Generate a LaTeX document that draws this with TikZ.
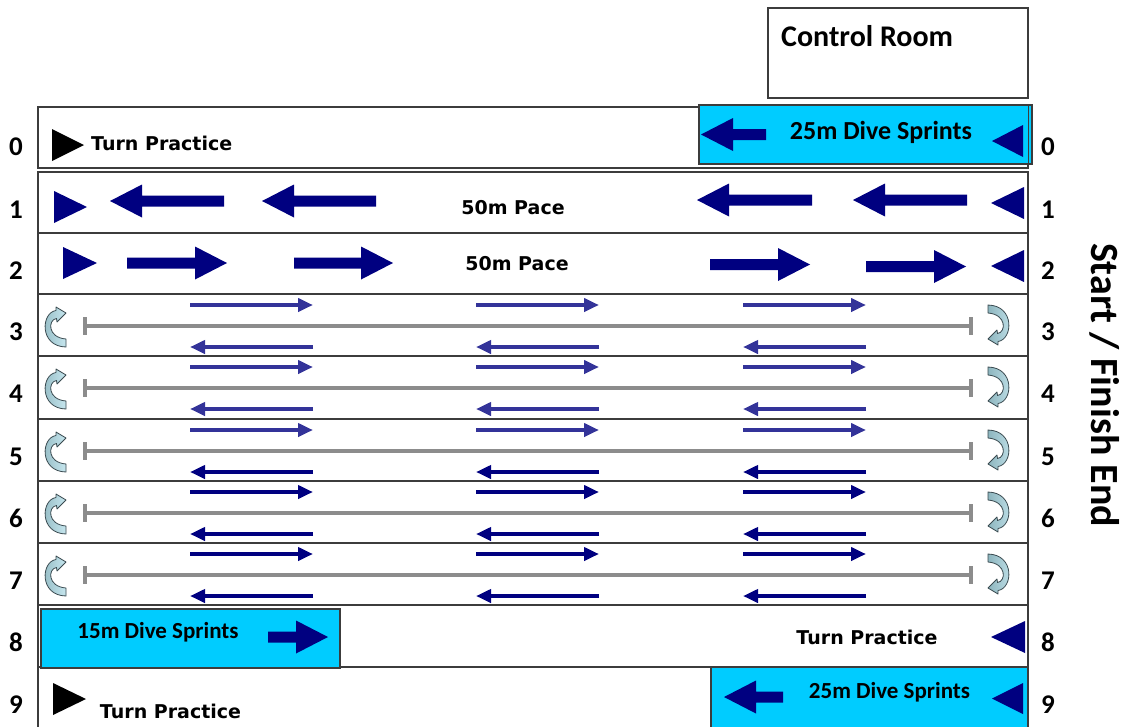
\documentclass[tikz,border=0pt]{standalone}
\usepackage{fontspec}
\setmainfont{Carlito}
\newfontfamily\verd{DejaVu Sans}
\usetikzlibrary{arrows.meta}
\definecolor{navy}{HTML}{000080}
\definecolor{midblue}{HTML}{333399}
\definecolor{cyanbox}{HTML}{00CCFF}
\definecolor{lanegray}{HTML}{8C8C8C}
\definecolor{edge}{HTML}{3C3C3C}
\definecolor{iconlight}{HTML}{C6E6EE}
\definecolor{icondark}{HTML}{8DB5BE}
\definecolor{icondraw}{HTML}{3A4A50}
\newcommand\bigarrL[3]{%
  \fill[navy] (#1,#3) -- ({#1+32},{#3-16.5}) -- ({#1+32},{#3-5.5}) -- (#2,{#3-5.5}) -- (#2,{#3+5.5}) -- ({#1+32},{#3+5.5}) -- ({#1+32},{#3+16.5}) -- cycle;}
\newcommand\bigarrR[3]{%
  \fill[navy] (#2,#3) -- ({#2-32},{#3-16.5}) -- ({#2-32},{#3-5.5}) -- (#1,{#3-5.5}) -- (#1,{#3+5.5}) -- ({#2-32},{#3+5.5}) -- ({#2-32},{#3+16.5}) -- cycle;}
\tikzset{
  lanebox/.style={draw=edge, line width=1.6pt},
  cyanrect/.style={draw=edge, fill=cyanbox, line width=1.6pt},
  txt/.style={inner sep=0pt, text depth=0pt},
  cal/.style={txt, font=\bfseries\fontsize{#1}{#1}\selectfont},
  verdt/.style={txt, font=\verd\bfseries\fontsize{19}{19}\selectfont},
  num/.style={txt, font=\bfseries\fontsize{27}{27}\selectfont},
  thinarr/.style={line width=4pt, -{Triangle[length=15pt,width=13pt]}},
  gline/.style={draw=lanegray, line width=4pt},
  turnicon/.pic={\shadedraw[left color=icondark, right color=iconlight, draw=icondraw, line width=0.8pt, line join=round]
    (11,22.5) .. controls (-16,22) and (-14,-12) .. (1,-14) -- (1,-17.5) -- (11,-11.5)
    -- (2,-2.5) -- (1.5,-6) .. controls (-7,-5) and (-8,13) .. (11,14.5) -- cycle;}
}
\begin{document}
\begin{tikzpicture}[x=1pt,y=-1pt]
\useasboundingbox (0,0) rectangle (1132,726);
\clip (0,0) rectangle (1132,726);
\fill[white] (0,0) rectangle (1132,726);
% control room
\draw[lanebox] (768,8) rectangle (1028,98);
\node[cal=30, anchor=west] (ctrl) at (781,36) {Control Room};
% lane 0
\draw[lanebox] (38,107) rectangle (1028,168);
\draw[cyanrect] (699,105) rectangle (1032,164);
\draw[draw=edge, line width=1pt] (1028,105) -- (1028,164);
\fill[black] (52,129) -- (84,145) -- (52,161) -- cycle;
\node[verdt, anchor=west] (tp0) at (91,143.5) {Turn Practice};
\bigarrL{701}{766}{134.5}
\fill[navy] (1023,125) -- (992,141) -- (1023,157) -- cycle;
\node[cal=26] (ds0) at (881,130) {25m Dive Sprints};
% lanes 1-9 box
\draw[lanebox] (38,172) rectangle (1028,740);
\foreach \y in {233,294,356,419,481,543,605,667}
  \draw[lanebox] (38,\y) -- (1028,\y);
% lane 1
\fill[navy] (54,191) -- (87,207) -- (54,223) -- cycle;
\bigarrL{110}{224}{201}
\bigarrL{262}{376}{201}
\bigarrL{697}{812}{200}
\bigarrL{853}{967}{200}
\fill[navy] (1024,187) -- (991,203) -- (1024,219) -- cycle;
\node[verdt] (p1) at (513,207) {50m Pace};
% lane 2
\fill[navy] (63,247) -- (97,263) -- (63,279) -- cycle;
\bigarrR{127}{227}{263}
\bigarrR{294}{393}{263}
\bigarrR{710}{810}{264.5}
\bigarrR{866}{966}{266.5}
\fill[navy] (1024,250) -- (991,266) -- (1024,282) -- cycle;
\node[verdt] (p2) at (517,263) {50m Pace};
% lanes 3-7
\foreach \t/\ca/\cb in {294/midblue/midblue,356/midblue/midblue,419/midblue/navy,481/navy/navy,543/navy/navy}{
  \draw[gline] (85,\t+32) -- (971,\t+32);
  \draw[gline] (85,\t+23) -- (85,\t+41);
  \draw[gline] (971,\t+23) -- (971,\t+41);
  \foreach \a/\b in {190/313,476/599,743/866}{
    \draw[thinarr, \ca] (\a,\t+11) -- (\b,\t+11);
    \draw[thinarr, \cb] (\b,\t+53) -- (\a,\t+53);
  }
  \pic at (55,\t+30.5) {turnicon};
  \pic[rotate=180] at (999,\t+33.5) {turnicon};
}
% lane 8
\draw[cyanrect] (41,609) rectangle (340,668);
\node[cal=23] (ds8) at (158,630) {15m Dive Sprints};
\bigarrR{268}{328}{637}
\node[verdt] (tp8) at (867,637) {Turn Practice};
\fill[navy] (1025,621) -- (991,637) -- (1025,653) -- cycle;
% lane 9
\draw[cyanrect] (711,667) rectangle (1028,740);
\fill[black] (53,683) -- (86,699) -- (53,715) -- cycle;
\node[verdt] (tp9) at (170.5,711) {Turn Practice};
\bigarrL{724}{783}{697}
\node[cal=23] (ds9) at (889.5,690) {25m Dive Sprints};
\fill[navy] (1023,683) -- (992,698.5) -- (1023,714) -- cycle;
% lane numbers
\foreach \n/\y in {0/147,1/209.5,2/270.5,3/331.5,4/393.5,5/456.5,6/518.5,7/580.5,8/642.5,9/704.5}{
  \node[num] (l\n) at (16,\y) {\n};
  \node[num] (r\n) at (1048,\y) {\n};
}
\node[cal=40, rotate=-90] (sfe) at (1106,385) {Start / Finish End};
\end{tikzpicture}
\end{document}
